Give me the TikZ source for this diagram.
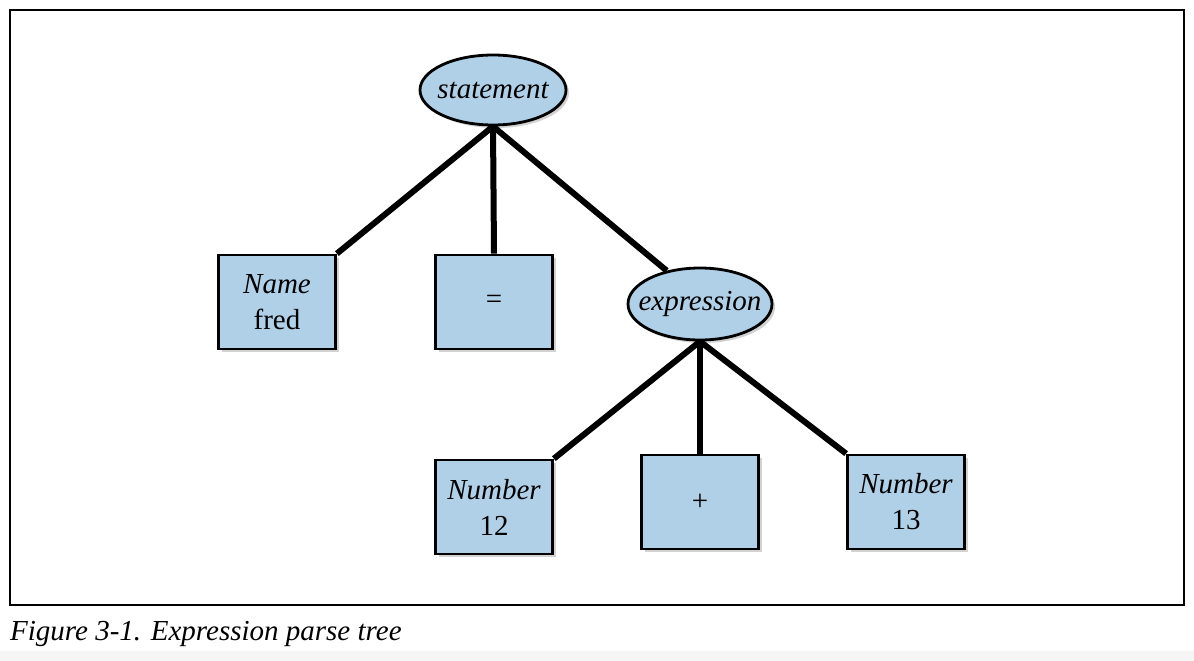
\documentclass[tikz,border=0pt]{standalone}
\usepackage{fontspec}
\setmainfont{Liberation Serif}
\usetikzlibrary{shapes.geometric,shadows}
\definecolor{boxblue}{RGB}{176,208,232}
\tikzset{
  every picture/.style={x=1pt,y=-1pt},
  nodebase/.style={draw=black, line width=2.8pt, fill=boxblue, font=\fontsize{29}{36}\selectfont, align=center,
     drop shadow={opacity=0.35, shadow xshift=3pt, shadow yshift=-3pt}},
  termbox/.style={nodebase, rectangle, minimum width=117pt, minimum height=94pt, inner sep=0pt},
  nonterm/.style={nodebase, ellipse, inner sep=0pt},
  edge/.style={line width=6pt, black}
}
\begin{document}
\begin{tikzpicture}
\useasboundingbox (0,0) rectangle (1194,661);
\fill[white] (0,0) rectangle (1194,661);
\fill[black!4] (0,651) rectangle (1194,661);
\draw[line width=1.3pt] (10,10) rectangle (1184,605);

\node[nonterm, minimum width=146pt, minimum height=70pt] (stmt) at (493,90) {\makebox[0pt]{\itshape statement}};
\node[termbox] (name) at (277,302) {\itshape Name\\fred};
\node[termbox] (eq) at (494,302) {=};
\node[nonterm, minimum width=144pt, minimum height=72pt] (expr) at (700,304) {\makebox[0pt]{\itshape expression}};
\node[termbox] (n12) at (494,507) {\itshape Number\\12};
\node[termbox] (plus) at (700,502) {+};
\node[termbox] (n13) at (906,502) {\itshape Number\\13};

\draw[edge] (stmt.south) -- (name.north east);
\draw[edge] (stmt.south) -- (eq.north);
\draw[edge] (stmt.south) -- (expr.135);
\draw[edge] (expr.south) -- (n12.north east);
\draw[edge] (expr.south) -- (plus.north);
\draw[edge] (expr.south) -- (n13.north west);

\node[anchor=base west, inner sep=0pt, font=\fontsize{29}{32}\selectfont\itshape] (cap) at (10,640) {Figure 3-1. Expression parse tree};
\end{tikzpicture}
\end{document}
